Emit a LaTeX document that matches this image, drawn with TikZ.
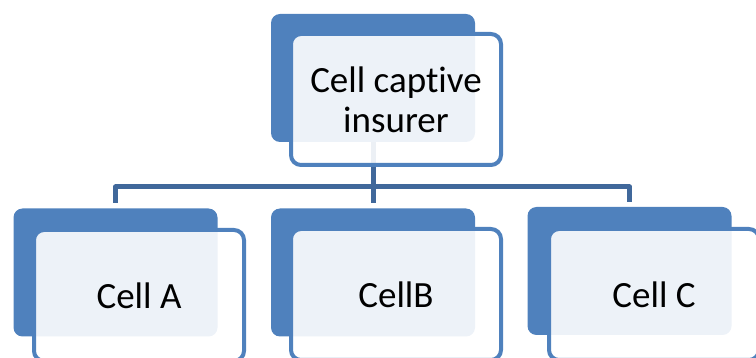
\documentclass[tikz,border=0pt]{standalone}
\usepackage{fontspec}
\setmainfont[Ligatures={NoCommon}]{Carlito}
\usepackage{tikz}
\usetikzlibrary{calc,positioning}
\definecolor{cellblue}{RGB}{79,129,189}
\definecolor{linkblue}{RGB}{64,104,155}
\tikzstyle{backbox} = [rectangle, rounded corners=9pt, fill=cellblue, inner sep=0pt, minimum width=204pt, minimum height=128pt]
\tikzstyle{frontbox} = [rectangle, rounded corners=10pt, draw=cellblue, line width=4pt, fill=white, fill opacity=0.9, text opacity=1, inner sep=0pt, minimum width=210pt, minimum height=131pt, align=center, font=\fontsize{37}{40}\selectfont]
\tikzstyle{connector} = [draw=linkblue, line width=5pt, line join=round]

\begin{document}
\begin{tikzpicture}[x=1pt, y=-1pt]
                \useasboundingbox (0,0) rectangle (756,358);
                \clip (0,0) rectangle (756,358);
                \node (top) [backbox] at (373,78) {};
                \node (a) [backbox] at (115.5,272.5) {};
                \node (b) [backbox] at (373,272.5) {};
                \node (c) [backbox] at (629.5,271) {};

                \coordinate (bar) at (373,187);
                \draw [connector] (top.south) -- (bar);
                \draw [connector] (bar) -| ([yshift=5pt]a.north);
                \draw [connector] (bar) -- ([yshift=5pt]b.north);
                \draw [connector] (bar) -| ([yshift=5pt]c.north);

                \node (topf) [frontbox] at (396,99.5) {Cell captive\\insurer};
                \node (af) [frontbox] at (139,295.5) {Cell A};
                \node (bf) [frontbox] at (396,294.5) {CellB};
                \node (cf) [frontbox] at (654,294.5) {Cell C};
            \end{tikzpicture}
\end{document}
